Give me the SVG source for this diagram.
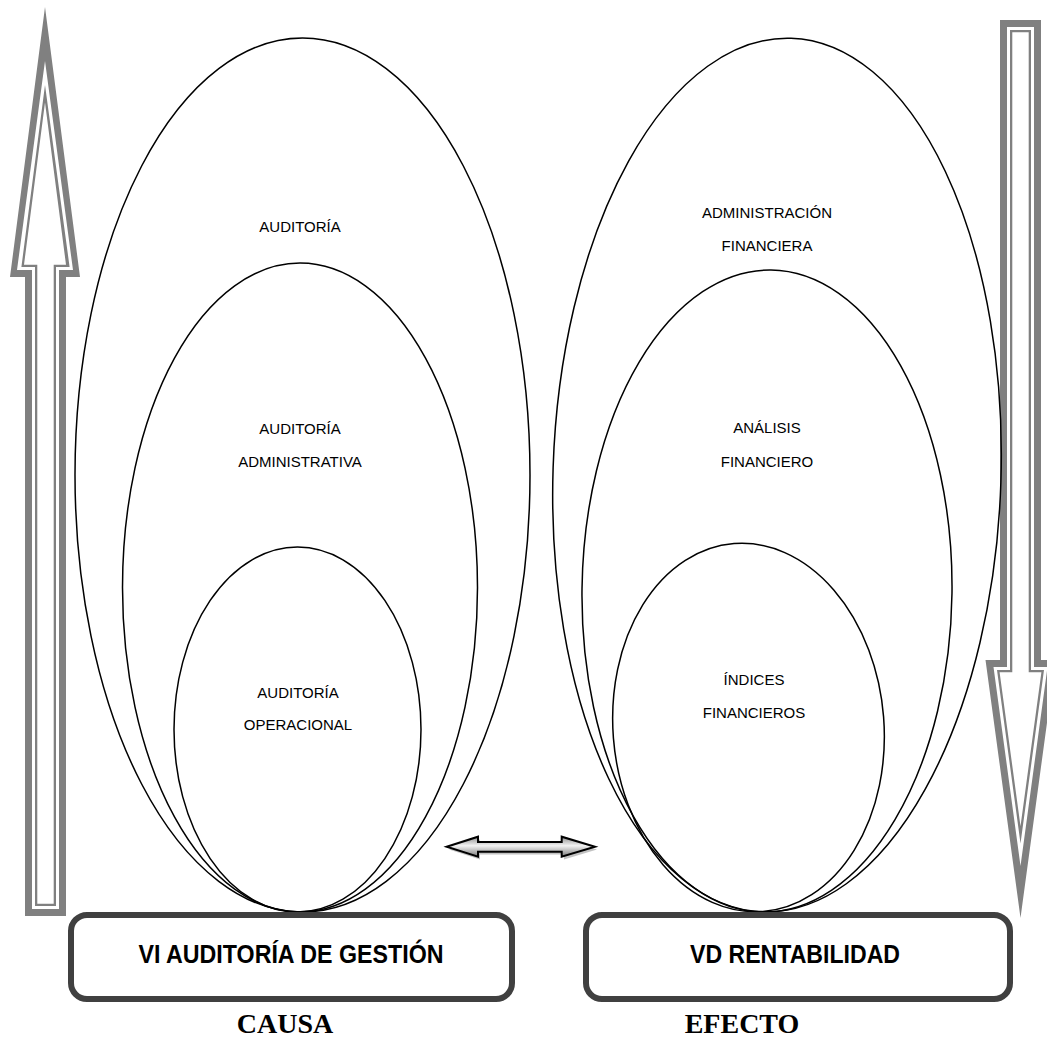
<svg xmlns="http://www.w3.org/2000/svg" width="1047" height="1041" viewBox="0 0 1047 1041">
  <defs>
    <linearGradient id="dblFill" x1="0" y1="0" x2="0" y2="1">
      <stop offset="0" stop-color="#8c8c8c"/>
      <stop offset="0.45" stop-color="#f2f2f2"/>
      <stop offset="1" stop-color="#7a7a7a"/>
    </linearGradient>
    <style>
      .ring { fill: none; stroke: #000; stroke-width: 1.5; }
      .lbl { font-family: "Liberation Sans", Arial, sans-serif; font-size: 15px; fill: #000; text-anchor: middle; }
      .box { fill: #fff; stroke: #404040; stroke-width: 6; }
      .boxtxt { font-family: "Liberation Sans Narrow", "Liberation Sans", Arial, sans-serif; font-weight: bold; font-size: 25px; fill: #000; text-anchor: middle; }
      .cap { font-family: "Liberation Serif", "Times New Roman", serif; font-weight: bold; font-size: 28px; fill: #000; text-anchor: middle; }
      .g1 { fill: #808080; }
      .w { fill: #fff; }
    </style>
  </defs>
  <rect width="1047" height="1041" fill="#fff"/>

  <!-- vertical hollow arrows and the two-headed link -->
  <g id="connectors">
    <g id="arrow-up">
      <polygon class="g1" points="45,7 80,277 66,277 66,916 25,916 25,277 10,277"/>
      <polygon class="w" points="45,61 73,270 59,270 59,909 32,909 32,270 17,270"/>
      <polygon class="g1" points="45,85 69.6,267 56,267 56,906 35,906 35,267 21.4,267"/>
      <polygon class="w" points="45,102.6 66,264.7 53.7,264.7 53.7,903.7 37.3,903.7 37.3,264.7 24,264.7"/>
    </g>
    <g id="arrow-down">
      <polygon class="g1" points="1020.5,918 985.5,660 1000,660 1000,20 1041,20 1041,660 1055.5,660"/>
      <polygon class="w" points="1020.5,866 993.5,667 1007,667 1007,27 1034,27 1034,667 1047.5,667"/>
      <polygon class="g1" points="1020.5,843.4 997,670 1010,670 1010,30 1031,30 1031,670 1044,670"/>
      <polygon class="w" points="1020.5,826.2 999.6,672.3 1012.3,672.3 1012.3,32.3 1028.7,32.3 1028.7,672.3 1041.4,672.3"/>
    </g>
    <g id="link">
      <polygon points="449,849.5 480,839.5 480,845 564,845 564,839.5 597,849.5 564,859.5 564,854.5 480,854.5 480,859.5" fill="#9a9a9a" opacity="0.6"/>
      <polygon points="446.7,846.7 478,836.7 478,842 561.7,842 561.7,836.7 595,846.7 561.7,856.7 561.7,851.7 478,851.7 478,856.7" fill="url(#dblFill)" stroke="#000" stroke-width="2" stroke-linejoin="miter"/>
    </g>
  </g>

  <!-- cause side: nested scopes -->
  <g id="auditoria">
    <ellipse class="ring" cx="302.5" cy="475" rx="227.5" ry="437"/>
    <text class="lbl" x="300" y="232">AUDITORÍA</text>
  </g>
  <g id="auditoria-administrativa">
    <ellipse class="ring" cx="300" cy="587.5" rx="177.5" ry="324.5"/>
    <text class="lbl" x="300" y="434">AUDITORÍA</text>
    <text class="lbl" x="300" y="467">ADMINISTRATIVA</text>
  </g>
  <g id="auditoria-operacional">
    <ellipse class="ring" cx="297.5" cy="729.5" rx="123.5" ry="182.5"/>
    <text class="lbl" x="298" y="698">AUDITORÍA</text>
    <text class="lbl" x="298" y="730">OPERACIONAL</text>
  </g>

  <!-- effect side: nested scopes, all touching the box at one point -->
  <g id="administracion-financiera">
    <ellipse class="ring" cx="777" cy="475" rx="224" ry="437" transform="rotate(1.84 777 475)"/>
    <text class="lbl" x="767" y="218">ADMINISTRACIÓN</text>
    <text class="lbl" x="767" y="251">FINANCIERA</text>
  </g>
  <g id="analisis-financiero">
    <ellipse class="ring" cx="767" cy="591" rx="185" ry="321" transform="rotate(0.71 767 591)"/>
    <text class="lbl" x="767" y="433">ANÁLISIS</text>
    <text class="lbl" x="767" y="467">FINANCIERO</text>
  </g>
  <g id="indices-financieros">
    <ellipse class="ring" cx="748.5" cy="727.5" rx="135.5" ry="184.5" transform="rotate(-4.5 748.5 727.5)"/>
    <text class="lbl" x="754" y="685">ÍNDICES</text>
    <text class="lbl" x="754" y="718">FINANCIEROS</text>
  </g>

  <!-- variable boxes -->
  <g id="vi">
    <rect class="box" x="71" y="915" width="441" height="84" rx="16"/>
    <text class="boxtxt" x="291" y="963" textLength="305" lengthAdjust="spacingAndGlyphs">VI AUDITORÍA DE GESTIÓN</text>
  </g>
  <g id="vd">
    <rect class="box" x="586" y="915" width="424" height="84" rx="16"/>
    <text class="boxtxt" x="795" y="963" textLength="210" lengthAdjust="spacingAndGlyphs">VD RENTABILIDAD</text>
  </g>
  <g id="causa">
    <text class="cap" x="285" y="1033">CAUSA</text>
  </g>
  <g id="efecto">
    <text class="cap" x="742" y="1033">EFECTO</text>
  </g>
</svg>
